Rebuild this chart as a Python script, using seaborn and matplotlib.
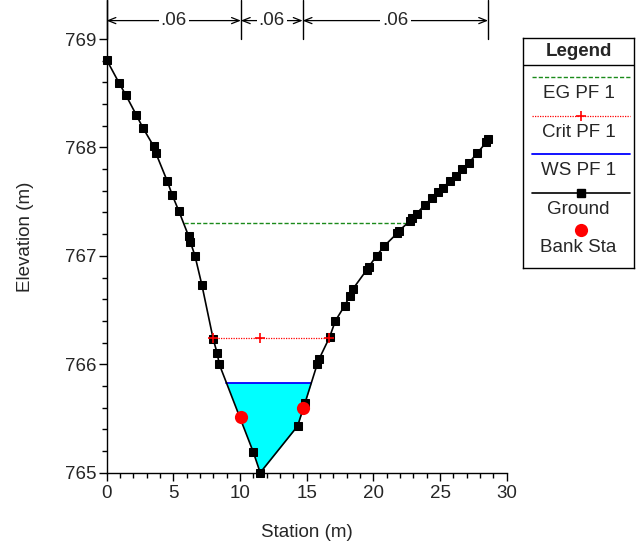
import numpy as np
import pandas as pd
import matplotlib
matplotlib.use("Agg")
import matplotlib.pyplot as plt
import seaborn as sns

ground_sta = [0.0, 0.96, 1.46, 2.23, 2.73, 3.54, 3.69, 4.55, 4.93, 5.43, 6.16, 6.28,
              6.63, 7.15, 8.0, 8.3, 8.45, 11.0, 11.52, 14.32, 14.87, 15.79, 15.94,
              16.72, 17.15, 17.85, 18.24, 18.44, 19.5, 19.66, 20.24, 20.81, 21.8,
              21.91, 22.73, 22.86, 23.24, 23.86, 24.36, 24.85, 25.23, 25.73, 26.16,
              26.65, 27.18, 27.8, 28.48, 28.6]
ground_elev = [768.81, 768.59, 768.48, 768.30, 768.18, 768.01, 767.95, 767.69, 767.56,
               767.41, 767.18, 767.13, 767.0, 766.73, 766.23, 766.10, 766.0, 765.19,
               765.0, 765.43, 765.64, 766.0, 766.05, 766.25, 766.40, 766.54, 766.63,
               766.69, 766.87, 766.90, 767.0, 767.09, 767.21, 767.23, 767.32, 767.35,
               767.39, 767.47, 767.53, 767.59, 767.63, 767.69, 767.74, 767.80, 767.86,
               767.95, 768.05, 768.08]
bank_sta = [10.07, 14.7]
bank_elev = [765.51, 765.60]
eg_elev = 767.30
crit_elev = 766.24
crit_mid_sta = 11.52
ws_elev = 765.83
n_breaks = [0.0, 10.07, 14.7, 28.6]
n_values = [".06", ".06", ".06"]

ground = pd.DataFrame({"sta": ground_sta, "elev": ground_elev})


def crossings(level):
    # left/right stations where a water level meets the ground
    s = np.array(ground_sta)
    z = np.array(ground_elev)
    i = int(np.argmin(z))
    left = np.interp(level, z[:i + 1][::-1], s[:i + 1][::-1])
    right = np.interp(level, z[i:], s[i:])
    return left, right


sns.set_style("ticks")
plt.rcParams["font.family"] = ["Liberation Sans", "DejaVu Sans"]
fs = 13.5

fig = plt.figure(figsize=(6.36, 5.43), dpi=100)
ax = fig.add_axes([0.1675, 0.1295, 0.6293, 0.8705])

# water fill and lines
ws_l, ws_r = crossings(ws_elev)
ax.fill_between(ground["sta"], ground["elev"], ws_elev,
                where=ground["elev"] <= ws_elev, interpolate=True,
                color="#00ffff", lw=0, zorder=1)
ax.plot([ws_l, ws_r], [ws_elev, ws_elev], color="#0000ff", lw=1.3, zorder=2)

eg_l, eg_r = crossings(eg_elev)
ax.plot([eg_l, eg_r], [eg_elev, eg_elev], color="#1a8a1a", lw=1, ls=(0, (3, 1.5)), zorder=2)

cr_l, cr_r = crossings(crit_elev)
ax.plot([cr_l, cr_r], [crit_elev, crit_elev], color="#ff0000", lw=0.9, ls=(0, (1, 1)), zorder=2)
ax.plot([cr_l, crit_mid_sta, cr_r], [crit_elev] * 3, ls="none", marker="+",
        color="#ff0000", ms=7, mew=1.2, zorder=5)

# ground
sns.lineplot(data=ground, x="sta", y="elev", ax=ax, color="black", lw=1.2,
             marker="s", markersize=6, markeredgecolor="black", sort=False,
             estimator=None, clip_on=False, zorder=3)
sns.scatterplot(x=bank_sta, y=bank_elev, ax=ax, color="#ff0000", s=90,
                edgecolor="#ff0000", linewidth=0, zorder=4, clip_on=False)

# manning's n
y_n = 769.17
for xb in n_breaks:
    ax.plot([xb, xb], [769.0, 769.36], color="black", lw=1, clip_on=False)
for i, nv in enumerate(n_values):
    a, b = n_breaks[i], n_breaks[i + 1]
    ax.annotate("", xy=(a, y_n), xytext=(b, y_n),
                arrowprops=dict(arrowstyle="<->,head_length=0.55,head_width=0.22",
                                color="black", lw=0.9, shrinkA=0, shrinkB=0))
    ax.text((a + b) / 2, y_n, nv, ha="center", va="center", fontsize=fs,
            bbox=dict(facecolor="white", edgecolor="none", pad=1.5))

ax.set_xlim(0, 30)
ax.set_ylim(765, 769.36)
ax.set_xticks(range(0, 31, 5))
ax.set_xticks(range(0, 31), minor=True)
ax.set_yticks([765, 766, 767, 768, 769])
ax.set_yticks(np.arange(765, 769.01, 0.2), minor=True)
ax.tick_params(which="major", length=6, width=1, labelsize=fs, color="black")
ax.tick_params(which="minor", length=3.5, width=1, color="black")
ax.tick_params(axis="y", which="major", pad=1.5)
ax.tick_params(axis="x", which="major", pad=3)
sns.despine(ax=ax)
for sp in ["left", "bottom"]:
    ax.spines[sp].set_color("black")
    ax.spines[sp].set_linewidth(1)
ax.set_xlabel("Station (m)", fontsize=fs, labelpad=16)
ax.set_ylabel("Elevation (m)", fontsize=fs, labelpad=22)

# legend box
lg = fig.add_axes([523 / 636, 1 - 268 / 543, 111 / 636, 230 / 543])
lg.set_xlim(0, 1)
lg.set_ylim(268, 38)
lg.set_xticks([])
lg.set_yticks([])
for sp in lg.spines.values():
    sp.set_visible(True)
    sp.set_color("black")
    sp.set_linewidth(1)
lg.text(0.5, 51, "Legend", ha="center", va="center", fontsize=fs, fontweight="bold")
lg.plot([0, 1], [65, 65], color="black", lw=1)
lx = [0.08, 0.96]
lg.plot(lx, [76.7, 76.7], color="#1a8a1a", lw=1, ls=(0, (3, 1.5)))
lg.text(0.5, 94, "EG PF 1", ha="center", va="center", fontsize=fs)
lg.plot(lx, [115.7, 115.7], color="#ff0000", lw=0.9, ls=(0, (1, 1)))
lg.plot([0.52], [115.7], marker="+", color="#ff0000", ms=7, mew=1.2)
lg.text(0.5, 132.5, "Crit PF 1", ha="center", va="center", fontsize=fs)
lg.plot(lx, [154, 154], color="#0000ff", lw=1.3)
lg.text(0.5, 170.5, "WS PF 1", ha="center", va="center", fontsize=fs)
lg.plot(lx, [192.7, 192.7], color="black", lw=1.2)
lg.plot([0.52], [192.7], marker="s", color="black", ms=6)
lg.text(0.5, 209, "Ground", ha="center", va="center", fontsize=fs)
lg.plot([0.52], [230], marker="o", color="#ff0000", ms=9.5, mew=0)
lg.text(0.5, 247, "Bank Sta", ha="center", va="center", fontsize=fs)

fig.savefig("out.png", dpi=100)
